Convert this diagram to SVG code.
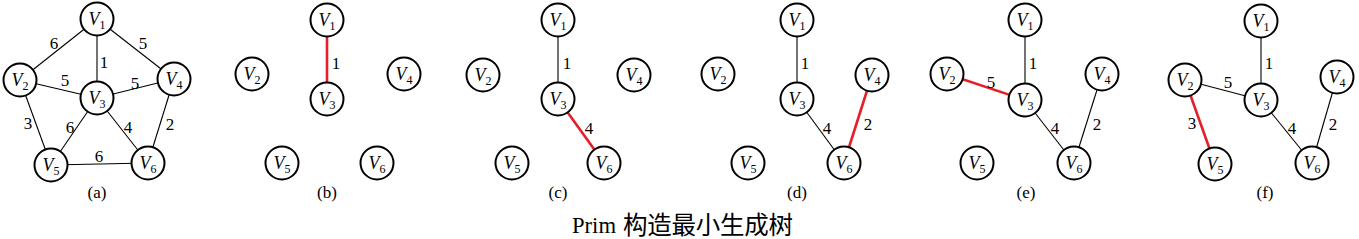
<svg xmlns="http://www.w3.org/2000/svg" width="1359" height="239" viewBox="0 0 1359 239">
<style>
.n{fill:#fff;stroke:#000;stroke-width:2}
.nl{font-family:"Liberation Serif","Times New Roman","DejaVu Serif",serif;font-size:18px;font-style:italic;text-anchor:middle}
.sub{font-size:12px;font-style:normal}
.e{stroke:#000;stroke-width:1.1}
.r{stroke:#e3202a;stroke-width:2.6}
.w{font-family:"Liberation Serif","Times New Roman","DejaVu Serif",serif;font-size:17px;text-anchor:middle}
.cap{font-family:"Liberation Serif","Times New Roman","DejaVu Serif",serif;font-size:17px;text-anchor:middle}
.title{font-family:"Liberation Serif","Times New Roman","DejaVu Serif",serif;font-size:23.5px}
.cjk{font-family:"Noto Sans CJK SC",sans-serif;font-size:24.5px}
</style>
<rect width="1359" height="239" fill="#fff"/>
<g id="connectors">
<line class="e" x1="97" y1="19" x2="20" y2="80"/>
<line class="e" x1="97" y1="19" x2="174" y2="79"/>
<line class="e" x1="97" y1="19" x2="97" y2="98"/>
<line class="e" x1="20" y1="80" x2="97" y2="98"/>
<line class="e" x1="174" y1="79" x2="97" y2="98"/>
<line class="e" x1="20" y1="80" x2="51" y2="165"/>
<line class="e" x1="97" y1="98" x2="51" y2="165"/>
<line class="e" x1="97" y1="98" x2="148" y2="163"/>
<line class="e" x1="174" y1="79" x2="148" y2="163"/>
<line class="e" x1="51" y1="165" x2="148" y2="163"/>
<line class="r" x1="327" y1="20" x2="327" y2="99"/>
<line class="e" x1="558" y1="20" x2="558" y2="99"/>
<line class="r" x1="558" y1="99" x2="604" y2="163"/>
<line class="e" x1="797" y1="20" x2="797" y2="99"/>
<line class="e" x1="797" y1="99" x2="844" y2="163"/>
<line class="r" x1="872" y1="75" x2="844" y2="163"/>
<line class="e" x1="1025" y1="20" x2="1025" y2="100"/>
<line class="r" x1="947" y1="74" x2="1025" y2="100"/>
<line class="e" x1="1025" y1="100" x2="1074" y2="163"/>
<line class="e" x1="1102" y1="74" x2="1074" y2="163"/>
<line class="e" x1="1261" y1="21" x2="1261" y2="100"/>
<line class="e" x1="1185" y1="80" x2="1261" y2="100"/>
<line class="r" x1="1185" y1="80" x2="1215" y2="164"/>
<line class="e" x1="1261" y1="100" x2="1312" y2="163"/>
<line class="e" x1="1337" y1="77" x2="1312" y2="163"/>
</g>
<g id="weights">
<text class="w" x="54" y="49">6</text>
<text class="w" x="143" y="49">5</text>
<text class="w" x="104" y="68">1</text>
<text class="w" x="65" y="86">5</text>
<text class="w" x="135" y="89">5</text>
<text class="w" x="28" y="129">3</text>
<text class="w" x="70" y="133">6</text>
<text class="w" x="128" y="133">4</text>
<text class="w" x="170" y="130">2</text>
<text class="w" x="99" y="162">6</text>
<text class="w" x="336" y="69">1</text>
<text class="w" x="567" y="69">1</text>
<text class="w" x="589" y="134">4</text>
<text class="w" x="805" y="69">1</text>
<text class="w" x="827" y="134">4</text>
<text class="w" x="868" y="130">2</text>
<text class="w" x="1033" y="69">1</text>
<text class="w" x="991" y="88">5</text>
<text class="w" x="1055" y="134">4</text>
<text class="w" x="1097" y="130">2</text>
<text class="w" x="1269" y="69">1</text>
<text class="w" x="1228" y="88">5</text>
<text class="w" x="1192" y="129">3</text>
<text class="w" x="1292" y="134">4</text>
<text class="w" x="1333" y="130">2</text>
</g>
<g id="a-v1"><circle class="n" cx="97" cy="19" r="16.5"/><text class="nl" x="97" y="25">V<tspan class="sub" dy="4">1</tspan></text></g>
<g id="a-v2"><circle class="n" cx="20" cy="80" r="16.5"/><text class="nl" x="20" y="86">V<tspan class="sub" dy="4">2</tspan></text></g>
<g id="a-v3"><circle class="n" cx="97" cy="98" r="16.5"/><text class="nl" x="97" y="104">V<tspan class="sub" dy="4">3</tspan></text></g>
<g id="a-v4"><circle class="n" cx="174" cy="79" r="16.5"/><text class="nl" x="174" y="85">V<tspan class="sub" dy="4">4</tspan></text></g>
<g id="a-v5"><circle class="n" cx="51" cy="165" r="16.5"/><text class="nl" x="51" y="171">V<tspan class="sub" dy="4">5</tspan></text></g>
<g id="a-v6"><circle class="n" cx="148" cy="163" r="16.5"/><text class="nl" x="148" y="169">V<tspan class="sub" dy="4">6</tspan></text></g>
<g id="b-v1"><circle class="n" cx="327" cy="20" r="16.5"/><text class="nl" x="327" y="26">V<tspan class="sub" dy="4">1</tspan></text></g>
<g id="b-v2"><circle class="n" cx="252" cy="74" r="16.5"/><text class="nl" x="252" y="80">V<tspan class="sub" dy="4">2</tspan></text></g>
<g id="b-v3"><circle class="n" cx="327" cy="99" r="16.5"/><text class="nl" x="327" y="105">V<tspan class="sub" dy="4">3</tspan></text></g>
<g id="b-v4"><circle class="n" cx="404" cy="74" r="16.5"/><text class="nl" x="404" y="80">V<tspan class="sub" dy="4">4</tspan></text></g>
<g id="b-v5"><circle class="n" cx="282" cy="163" r="16.5"/><text class="nl" x="282" y="169">V<tspan class="sub" dy="4">5</tspan></text></g>
<g id="b-v6"><circle class="n" cx="377" cy="163" r="16.5"/><text class="nl" x="377" y="169">V<tspan class="sub" dy="4">6</tspan></text></g>
<g id="c-v1"><circle class="n" cx="558" cy="20" r="16.5"/><text class="nl" x="558" y="26">V<tspan class="sub" dy="4">1</tspan></text></g>
<g id="c-v2"><circle class="n" cx="483" cy="75" r="16.5"/><text class="nl" x="483" y="81">V<tspan class="sub" dy="4">2</tspan></text></g>
<g id="c-v3"><circle class="n" cx="558" cy="99" r="16.5"/><text class="nl" x="558" y="105">V<tspan class="sub" dy="4">3</tspan></text></g>
<g id="c-v4"><circle class="n" cx="634" cy="75" r="16.5"/><text class="nl" x="634" y="81">V<tspan class="sub" dy="4">4</tspan></text></g>
<g id="c-v5"><circle class="n" cx="512" cy="163" r="16.5"/><text class="nl" x="512" y="169">V<tspan class="sub" dy="4">5</tspan></text></g>
<g id="c-v6"><circle class="n" cx="604" cy="163" r="16.5"/><text class="nl" x="604" y="169">V<tspan class="sub" dy="4">6</tspan></text></g>
<g id="d-v1"><circle class="n" cx="797" cy="20" r="16.5"/><text class="nl" x="797" y="26">V<tspan class="sub" dy="4">1</tspan></text></g>
<g id="d-v2"><circle class="n" cx="718" cy="74" r="16.5"/><text class="nl" x="718" y="80">V<tspan class="sub" dy="4">2</tspan></text></g>
<g id="d-v3"><circle class="n" cx="797" cy="99" r="16.5"/><text class="nl" x="797" y="105">V<tspan class="sub" dy="4">3</tspan></text></g>
<g id="d-v4"><circle class="n" cx="872" cy="75" r="16.5"/><text class="nl" x="872" y="81">V<tspan class="sub" dy="4">4</tspan></text></g>
<g id="d-v5"><circle class="n" cx="748" cy="163" r="16.5"/><text class="nl" x="748" y="169">V<tspan class="sub" dy="4">5</tspan></text></g>
<g id="d-v6"><circle class="n" cx="844" cy="163" r="16.5"/><text class="nl" x="844" y="169">V<tspan class="sub" dy="4">6</tspan></text></g>
<g id="e-v1"><circle class="n" cx="1025" cy="20" r="16.5"/><text class="nl" x="1025" y="26">V<tspan class="sub" dy="4">1</tspan></text></g>
<g id="e-v2"><circle class="n" cx="947" cy="74" r="16.5"/><text class="nl" x="947" y="80">V<tspan class="sub" dy="4">2</tspan></text></g>
<g id="e-v3"><circle class="n" cx="1025" cy="100" r="16.5"/><text class="nl" x="1025" y="106">V<tspan class="sub" dy="4">3</tspan></text></g>
<g id="e-v4"><circle class="n" cx="1102" cy="74" r="16.5"/><text class="nl" x="1102" y="80">V<tspan class="sub" dy="4">4</tspan></text></g>
<g id="e-v5"><circle class="n" cx="977" cy="163" r="16.5"/><text class="nl" x="977" y="169">V<tspan class="sub" dy="4">5</tspan></text></g>
<g id="e-v6"><circle class="n" cx="1074" cy="163" r="16.5"/><text class="nl" x="1074" y="169">V<tspan class="sub" dy="4">6</tspan></text></g>
<g id="f-v1"><circle class="n" cx="1261" cy="21" r="16.5"/><text class="nl" x="1261" y="27">V<tspan class="sub" dy="4">1</tspan></text></g>
<g id="f-v2"><circle class="n" cx="1185" cy="80" r="16.5"/><text class="nl" x="1185" y="86">V<tspan class="sub" dy="4">2</tspan></text></g>
<g id="f-v3"><circle class="n" cx="1261" cy="100" r="16.5"/><text class="nl" x="1261" y="106">V<tspan class="sub" dy="4">3</tspan></text></g>
<g id="f-v4"><circle class="n" cx="1337" cy="77" r="16.5"/><text class="nl" x="1337" y="83">V<tspan class="sub" dy="4">4</tspan></text></g>
<g id="f-v5"><circle class="n" cx="1215" cy="164" r="16.5"/><text class="nl" x="1215" y="170">V<tspan class="sub" dy="4">5</tspan></text></g>
<g id="f-v6"><circle class="n" cx="1312" cy="163" r="16.5"/><text class="nl" x="1312" y="169">V<tspan class="sub" dy="4">6</tspan></text></g>
<g id="captions">
<text class="cap" x="97" y="198">(a)</text>
<text class="cap" x="327" y="198">(b)</text>
<text class="cap" x="558" y="198">(c)</text>
<text class="cap" x="797" y="198">(d)</text>
<text class="cap" x="1026" y="198">(e)</text>
<text class="cap" x="1265" y="198">(f)</text>
<text class="title" x="572" y="233" textLength="44" lengthAdjust="spacingAndGlyphs">Prim</text>
<text class="cjk" x="623" y="234" textLength="170" lengthAdjust="spacing">构造最小生成树</text>
</g>
</svg>
